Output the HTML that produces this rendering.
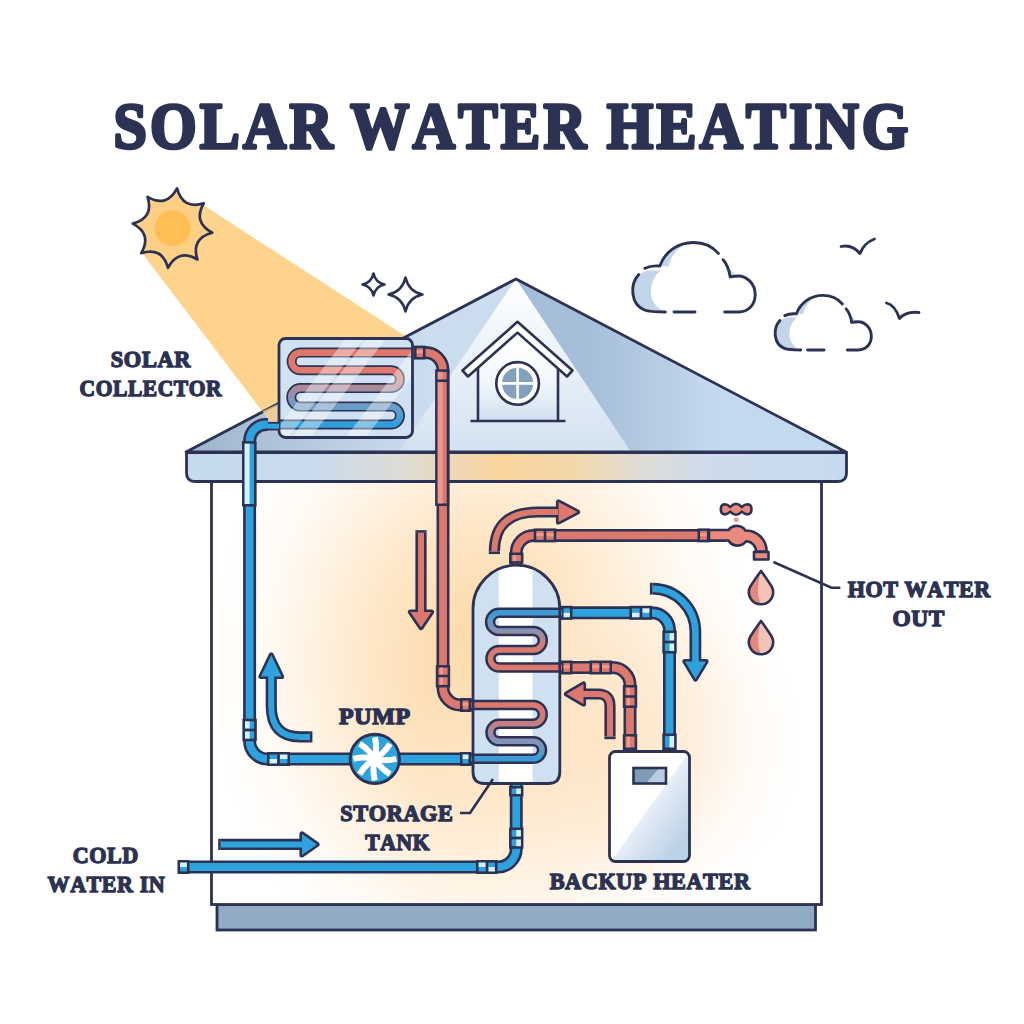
<!DOCTYPE html>
<html><head><meta charset="utf-8"><title>Solar Water Heating</title>
<style>html,body{margin:0;padding:0;background:#fff;width:1024px;height:1024px;overflow:hidden}svg{display:block}</style>
</head><body>
<svg width="1024" height="1024" viewBox="0 0 1024 1024">
<defs>
<radialGradient id="glow" cx="482" cy="665" r="270" gradientUnits="userSpaceOnUse" gradientTransform="translate(482 665) scale(1 1.25) translate(-482 -665)">
<stop offset="0" stop-color="#fcd9a6"/><stop offset="0.2" stop-color="#fddeb3"/><stop offset="0.4" stop-color="#fee6c6"/><stop offset="0.6" stop-color="#fff1de"/><stop offset="0.8" stop-color="#fffaf4"/><stop offset="1" stop-color="#ffffff"/></radialGradient>
<linearGradient id="roofL" x1="200" y1="0" x2="420" y2="0" gradientUnits="userSpaceOnUse"><stop offset="0" stop-color="#a1b7cf"/><stop offset="1" stop-color="#cbdcee"/></linearGradient>
<linearGradient id="roofR" x1="585" y1="0" x2="715" y2="0" gradientUnits="userSpaceOnUse"><stop offset="0" stop-color="#a5bdd7"/><stop offset="1" stop-color="#c5d9ee"/></linearGradient>
<linearGradient id="roofC" x1="0" y1="279" x2="0" y2="452" gradientUnits="userSpaceOnUse"><stop offset="0" stop-color="#ffffff"/><stop offset="1" stop-color="#d3e2f1"/></linearGradient>
<linearGradient id="eave" x1="186" y1="0" x2="847" y2="0" gradientUnits="userSpaceOnUse"><stop offset="0" stop-color="#c6daef"/><stop offset="0.19" stop-color="#c8dbee"/><stop offset="0.32" stop-color="#dcdcd8"/><stop offset="0.475" stop-color="#fbd49c"/><stop offset="0.59" stop-color="#f3d8ac"/><stop offset="0.69" stop-color="#dedcd6"/><stop offset="0.79" stop-color="#cddcec"/><stop offset="1" stop-color="#c6daef"/></linearGradient>
<linearGradient id="dorm" x1="0" y1="340" x2="0" y2="421" gradientUnits="userSpaceOnUse"><stop offset="0" stop-color="#ffffff"/><stop offset="0.5" stop-color="#f4f8fc"/><stop offset="1" stop-color="#cfe0f0"/></linearGradient>
<linearGradient id="coil1" x1="0" y1="352" x2="0" y2="425" gradientUnits="userSpaceOnUse"><stop offset="0" stop-color="#e0766a"/><stop offset="0.3" stop-color="#de7a6f"/><stop offset="0.5" stop-color="#a88b9c"/><stop offset="0.75" stop-color="#6d9dca"/><stop offset="1" stop-color="#2f9fdc"/></linearGradient>
<linearGradient id="coil2" x1="0" y1="612" x2="0" y2="668" gradientUnits="userSpaceOnUse"><stop offset="0" stop-color="#3b9bd8"/><stop offset="0.3" stop-color="#7f93b8"/><stop offset="0.6" stop-color="#d77a70"/><stop offset="1" stop-color="#dc786d"/></linearGradient>
<linearGradient id="coil3" x1="0" y1="705" x2="0" y2="759" gradientUnits="userSpaceOnUse"><stop offset="0" stop-color="#dc786d"/><stop offset="0.35" stop-color="#c47f82"/><stop offset="0.7" stop-color="#7d95bd"/><stop offset="1" stop-color="#3b9bd8"/></linearGradient>
<linearGradient id="heater" x1="649.5" y1="806.4" x2="687.3" y2="833.7" gradientUnits="userSpaceOnUse"><stop offset="0" stop-color="#ffffff"/><stop offset="0.03" stop-color="#e6eef7"/><stop offset="1" stop-color="#bcd1e6"/></linearGradient>
<clipPath id="tankclip"><path d="M473 608.6 A43.4 43.4 0 0 1 559.8 608.6 V772 Q559.8 783.5 548.3 783.5 H484.5 Q473 783.5 473 772 Z"/></clipPath>
<clipPath id="collclip"><rect x="279" y="338.5" width="133.5" height="99" rx="6.5"/></clipPath>
<radialGradient id="glow2" cx="610" cy="740" r="190" gradientUnits="userSpaceOnUse" gradientTransform="translate(610 740) scale(1 0.95) translate(-610 -740)">
<stop offset="0" stop-color="#fde3c2" stop-opacity="0.85"/><stop offset="0.5" stop-color="#fde8cf" stop-opacity="0.55"/><stop offset="1" stop-color="#fff3e6" stop-opacity="0"/></radialGradient>
</defs>
<polygon points="142,253 204,205.5 410,339 278,432" fill="#fdd38d"/>
<path d="M212.24 232.73 Q190.87 238.38 197.40 259.50 Q178.29 248.39 167.97 267.94 Q162.32 246.57 141.20 253.10 Q152.31 233.99 132.76 223.67 Q154.13 218.02 147.60 196.90 Q166.71 208.01 177.03 188.46 Q182.68 209.83 203.80 203.30 Q192.69 222.41 212.24 232.73 Z" fill="#fdd085" stroke="#2c3253" stroke-width="2.7" stroke-linejoin="round"/>
<circle cx="172.5" cy="228.2" r="18" fill="#fdbf55"/>
<path d="M373.5 273.5 Q375.48 282.52 384.5 284.5 Q375.48 286.48 373.5 295.5 Q371.52 286.48 362.5 284.5 Q371.52 282.52 373.5 273.5 Z" fill="#fff" stroke="#2c3253" stroke-width="2.6" stroke-linejoin="round"/>
<path d="M405.5 277.5 Q408.56 291.44 422.5 294.5 Q408.56 297.56 405.5 311.5 Q402.44 297.56 388.5 294.5 Q402.44 291.44 405.5 277.5 Z" fill="#fff" stroke="#2c3253" stroke-width="2.6" stroke-linejoin="round"/>
<g transform="translate(632.5 242.5) scale(1.0)"><path d="M9 30.5 C -3 42 -2 62 12 67.5 C 17 69.5 25 69.5 32.8 69.5 C 22 65 17.5 56 18.5 46 C 19.5 38 23 32 28 28.5 C 20 27 14 28 9 30.5 Z" fill="#c3d5e8"/><path d="M27.3 23.5 C 31 12 41 4 53 1.2 C 44 6 38.5 14 36 24 Z" fill="#c3d5e8"/><path d="M90.6 17.2 C 94 21 96.5 27 97.7 34.4 C 101 33.8 103 33.5 105 33.6 C 100 30 95 24 90.6 17.2 Z" fill="#c3d5e8"/><path d="M6.25 32 C -3 42 -2 62 12 67.5 C 17 69.5 25 69.5 32.8 69.5" fill="none" stroke="#2c3253" stroke-width="2.90" stroke-linecap="round" stroke-linejoin="round"/><path d="M41.5 69.5 H62.5" fill="none" stroke="#2c3253" stroke-width="2.90" stroke-linecap="round" stroke-linejoin="round"/><path d="M92.2 69.5 H106 C 116 69.5 122.7 62 122.7 52 C 122.7 41 114 33.5 106 33.5 C 103 33.5 100 34 97.7 34.4 C 96.5 27 94 21 90.6 17.2" fill="none" stroke="#2c3253" stroke-width="2.90" stroke-linecap="round" stroke-linejoin="round"/><path d="M85.9 10.9 C 80 4 71 0 61 0 C 45 0 32 10 27.3 23.5 C 22 23 16 24 12.5 25.8" fill="none" stroke="#2c3253" stroke-width="2.90" stroke-linecap="round" stroke-linejoin="round"/></g>
<g transform="translate(775 295.4) scale(0.785)"><path d="M9 30.5 C -3 42 -2 62 12 67.5 C 17 69.5 25 69.5 32.8 69.5 C 22 65 17.5 56 18.5 46 C 19.5 38 23 32 28 28.5 C 20 27 14 28 9 30.5 Z" fill="#c3d5e8"/><path d="M27.3 23.5 C 31 12 41 4 53 1.2 C 44 6 38.5 14 36 24 Z" fill="#c3d5e8"/><path d="M90.6 17.2 C 94 21 96.5 27 97.7 34.4 C 101 33.8 103 33.5 105 33.6 C 100 30 95 24 90.6 17.2 Z" fill="#c3d5e8"/><path d="M6.25 32 C -3 42 -2 62 12 67.5 C 17 69.5 25 69.5 32.8 69.5" fill="none" stroke="#2c3253" stroke-width="3.69" stroke-linecap="round" stroke-linejoin="round"/><path d="M41.5 69.5 H62.5" fill="none" stroke="#2c3253" stroke-width="3.69" stroke-linecap="round" stroke-linejoin="round"/><path d="M92.2 69.5 H106 C 116 69.5 122.7 62 122.7 52 C 122.7 41 114 33.5 106 33.5 C 103 33.5 100 34 97.7 34.4 C 96.5 27 94 21 90.6 17.2" fill="none" stroke="#2c3253" stroke-width="3.69" stroke-linecap="round" stroke-linejoin="round"/><path d="M85.9 10.9 C 80 4 71 0 61 0 C 45 0 32 10 27.3 23.5 C 22 23 16 24 12.5 25.8" fill="none" stroke="#2c3253" stroke-width="3.69" stroke-linecap="round" stroke-linejoin="round"/></g>
<path d="M841 246.5 Q852 244 860 253.5 Q864 243 874.5 239" fill="none" stroke="#2c3253" stroke-width="2.8" stroke-linecap="round" stroke-linejoin="round"/>
<path d="M886.5 303 Q895 305 899.5 318.5 Q906 311 919 312.5" fill="none" stroke="#2c3253" stroke-width="2.8" stroke-linecap="round" stroke-linejoin="round"/>
<rect x="217" y="904" width="598.5" height="26" fill="#91abc6" stroke="#2c3253" stroke-width="2.8"/>
<rect x="211.5" y="470" width="610" height="434.5" fill="url(#glow)"/>
<rect x="211.5" y="470" width="610" height="434.5" fill="url(#glow2)" stroke="#2c3253" stroke-width="2.8"/>
<polygon points="186,452 516,279 846,452" fill="url(#roofR)"/>
<polygon points="186,452 516,279 420,452" fill="url(#roofL)"/>
<polygon points="516,279 399,452 631,452" fill="url(#roofC)"/>
<polygon points="186,452 516,279 846,452" fill="none" stroke="#2c3253" stroke-width="2.8" stroke-linejoin="round"/>
<path d="M186.5 452.5 H846.5 V473 Q846.5 481.5 838 481.5 H195 Q186.5 481.5 186.5 473 Z" fill="url(#eave)" stroke="#2c3253" stroke-width="2.8" stroke-linejoin="round"/>
<polygon points="262.5,411.3 279,403.5 279,432 277,432" fill="#fcd08a" opacity="0.78"/>
<path d="M478 421 V366 L517.5 331 L558 366 V421 Z" fill="url(#dorm)"/>
<path d="M478 368 V421 M558 368 V421 M470.5 421 H565.5" stroke="#2c3253" stroke-width="2.6" fill="none"/>
<path d="M462.5 370.5 L517.5 321.8 L572.5 370.5 L567 376.5 L517.5 332.6 L468 376.5 Z" fill="#fff" stroke="#2c3253" stroke-width="2.6" stroke-linejoin="round"/>
<circle cx="517.6" cy="383.4" r="21.3" fill="#fff" stroke="#2c3253" stroke-width="2.6"/>
<circle cx="517.6" cy="383.4" r="15.6" fill="#84a0ba"/>
<path d="M517.6 367.8 V399 M502 383.4 H533.2" stroke="#fff" stroke-width="2.6"/>
<rect x="279" y="338.5" width="133.5" height="99" rx="6.5" fill="#cfe1f2"/>
<g clip-path="url(#collclip)">
<path d="M426 352.6 H300.5 A8.85 8.85 0 0 0 300.5 370.3 H391 A8.9 8.9 0 0 1 391 388.1 H300.5 A9.25 9.25 0 0 0 300.5 406.6 H391 A8.95 8.95 0 0 1 391 424.5 H266" fill="none" stroke="#2c3253" stroke-width="10"/>
<path d="M426 352.6 H300.5 A8.85 8.85 0 0 0 300.5 370.3 H391 A8.9 8.9 0 0 1 391 388.1 H300.5 A9.25 9.25 0 0 0 300.5 406.6 H391 A8.95 8.95 0 0 1 391 424.5 H266" fill="none" stroke="url(#coil1)" stroke-width="6.6"/>
<g fill="#ffffff" opacity="0.4"><polygon points="267.0,442 285.0,442 365.6,336 347.6,336"/><polygon points="288.3,442 307.3,442 387.9,336 368.9,336"/><polygon points="342.3,442 362.3,442 442.9,336 422.9,336"/></g>
</g>
<rect x="279" y="338.5" width="133.5" height="99" rx="6.5" fill="none" stroke="#2c3253" stroke-width="2.8"/>
<path d="M414 352.6 H425.5 A17.5 17.5 0 0 1 443 370.1 V687.5 A17.5 17.5 0 0 0 460.5 705 H472" fill="none" stroke="#2c3253" stroke-width="13" stroke-linecap="butt" stroke-linejoin="round"/>
<path d="M279 426.2 H268" fill="none" stroke="#2c3253" stroke-width="8.6" stroke-linecap="butt" stroke-linejoin="round"/>
<path d="M268 424.5 H266.1 A16.5 16.5 0 0 0 249.6 441 V741 A18 18 0 0 0 267.6 759 H472" fill="none" stroke="#2c3253" stroke-width="13" stroke-linecap="butt" stroke-linejoin="round"/>
<path d="M516.25 564 V552.9 A17.5 17.5 0 0 1 533.75 535.4 H726" fill="none" stroke="#2c3253" stroke-width="13" stroke-linecap="butt" stroke-linejoin="round"/>
<path d="M560 667.5 H612.5 A17.5 17.5 0 0 1 630 685 V750" fill="none" stroke="#2c3253" stroke-width="13" stroke-linecap="butt" stroke-linejoin="round"/>
<path d="M560 612.8 H652 A17.5 17.5 0 0 1 669.5 630.3 V750" fill="none" stroke="#2c3253" stroke-width="13" stroke-linecap="butt" stroke-linejoin="round"/>
<path d="M516.25 784 V848.75 A18.25 18.25 0 0 1 498 867 H185" fill="none" stroke="#2c3253" stroke-width="13" stroke-linecap="butt" stroke-linejoin="round"/>
<path d="M414 352.6 H425.5 A17.5 17.5 0 0 1 443 370.1 V687.5 A17.5 17.5 0 0 0 460.5 705 H472" fill="none" stroke="#dc786d" stroke-width="7.8" stroke-linecap="butt" stroke-linejoin="round"/>
<path d="M279 426.2 H268" fill="none" stroke="#2ea2dc" stroke-width="5.0" stroke-linecap="butt" stroke-linejoin="round"/>
<path d="M268 424.5 H266.1 A16.5 16.5 0 0 0 249.6 441 V741 A18 18 0 0 0 267.6 759 H472" fill="none" stroke="#2ea2dc" stroke-width="7.8" stroke-linecap="butt" stroke-linejoin="round"/>
<path d="M516.25 564 V552.9 A17.5 17.5 0 0 1 533.75 535.4 H726" fill="none" stroke="#dc786d" stroke-width="7.8" stroke-linecap="butt" stroke-linejoin="round"/>
<path d="M560 667.5 H612.5 A17.5 17.5 0 0 1 630 685 V750" fill="none" stroke="#dc786d" stroke-width="7.8" stroke-linecap="butt" stroke-linejoin="round"/>
<path d="M560 612.8 H652 A17.5 17.5 0 0 1 669.5 630.3 V750" fill="none" stroke="#2ea2dc" stroke-width="7.8" stroke-linecap="butt" stroke-linejoin="round"/>
<path d="M516.25 784 V848.75 A18.25 18.25 0 0 1 498 867 H185" fill="none" stroke="#2ea2dc" stroke-width="7.8" stroke-linecap="butt" stroke-linejoin="round"/>
<rect x="243.3" y="442.4" width="12" height="62.9" fill="#2ea2dc" stroke="#2c3253" stroke-width="2.6"/>
<rect x="244.6" y="443.7" width="5" height="60.3" fill="#d4f1fc"/>
<rect x="436.4" y="370.6" width="11.6" height="134.1" fill="#dc786d" stroke="#2c3253" stroke-width="2.6"/>
<rect x="437.7" y="371.9" width="5" height="131.5" fill="#ee968a"/>
<line x1="436.4" y1="380.7" x2="448" y2="380.7" stroke="#2c3253" stroke-width="2.6"/>
<rect x="415.30" y="346.90" width="8.90" height="11.40" fill="#dc786d" stroke="#2c3253" stroke-width="2.6"/><rect x="416.60" y="350.20" width="6.30" height="3.2" fill="#eea092" opacity="0.85"/>
<rect x="437.10" y="666.30" width="11.80" height="19.90" fill="#dc786d" stroke="#2c3253" stroke-width="2.6"/><rect x="439.80" y="667.60" width="3.2" height="17.30" fill="#eea092" opacity="0.85"/><line x1="437.10" y1="676.00" x2="448.90" y2="676.00" stroke="#2c3253" stroke-width="2.6"/>
<rect x="461.30" y="699.30" width="8.40" height="11.40" fill="#dc786d" stroke="#2c3253" stroke-width="2.6"/><rect x="462.60" y="702.60" width="5.80" height="3.2" fill="#eea092" opacity="0.85"/>
<rect x="243.70" y="720.05" width="11.80" height="19.90" fill="#2ea2dc" stroke="#2c3253" stroke-width="2.6"/><rect x="245.00" y="721.35" width="4.60" height="7.35" fill="#d4f1fc"/><rect x="245.00" y="731.30" width="4.60" height="7.35" fill="#d4f1fc"/><line x1="243.70" y1="730.00" x2="255.50" y2="730.00" stroke="#2c3253" stroke-width="2.6"/>
<rect x="268.30" y="753.30" width="20.40" height="11.40" fill="#2ea2dc" stroke="#2c3253" stroke-width="2.6"/><rect x="269.60" y="759.00" width="7.60" height="4.40" fill="#d4f1fc"/><rect x="279.80" y="754.60" width="7.60" height="4.40" fill="#d4f1fc"/><line x1="278.50" y1="753.30" x2="278.50" y2="764.70" stroke="#2c3253" stroke-width="2.6"/>
<rect x="461.30" y="753.30" width="8.40" height="11.40" fill="#2ea2dc" stroke="#2c3253" stroke-width="2.6"/><rect x="462.60" y="754.60" width="5.80" height="4.40" fill="#d4f1fc"/>
<rect x="510.35" y="553.80" width="11.80" height="8.65" fill="#dc786d" stroke="#2c3253" stroke-width="2.6"/><rect x="513.05" y="555.10" width="3.2" height="6.05" fill="#eea092" opacity="0.85"/>
<rect x="535.05" y="529.70" width="19.90" height="11.40" fill="#dc786d" stroke="#2c3253" stroke-width="2.6"/><rect x="536.35" y="533.00" width="17.30" height="3.2" fill="#eea092" opacity="0.85"/><line x1="545.00" y1="529.70" x2="545.00" y2="541.10" stroke="#2c3253" stroke-width="2.6"/>
<rect x="698.80" y="529.70" width="9.40" height="11.40" fill="#dc786d" stroke="#2c3253" stroke-width="2.6"/><rect x="700.10" y="533.00" width="6.80" height="3.2" fill="#eea092" opacity="0.85"/>
<rect x="562.30" y="661.80" width="8.90" height="11.40" fill="#dc786d" stroke="#2c3253" stroke-width="2.6"/><rect x="563.60" y="665.10" width="6.30" height="3.2" fill="#eea092" opacity="0.85"/>
<rect x="590.80" y="661.80" width="19.90" height="11.40" fill="#dc786d" stroke="#2c3253" stroke-width="2.6"/><rect x="592.10" y="665.10" width="17.30" height="3.2" fill="#eea092" opacity="0.85"/><line x1="600.70" y1="661.80" x2="600.70" y2="673.20" stroke="#2c3253" stroke-width="2.6"/>
<rect x="624.10" y="686.30" width="11.80" height="20.40" fill="#dc786d" stroke="#2c3253" stroke-width="2.6"/><rect x="626.80" y="687.60" width="3.2" height="17.80" fill="#eea092" opacity="0.85"/><line x1="624.10" y1="696.50" x2="635.90" y2="696.50" stroke="#2c3253" stroke-width="2.6"/>
<rect x="624.10" y="735.30" width="11.80" height="13.40" fill="#dc786d" stroke="#2c3253" stroke-width="2.6"/><rect x="626.80" y="736.60" width="3.2" height="10.80" fill="#eea092" opacity="0.85"/>
<rect x="562.30" y="607.10" width="8.90" height="11.40" fill="#2ea2dc" stroke="#2c3253" stroke-width="2.6"/><rect x="563.60" y="612.80" width="6.30" height="4.40" fill="#d4f1fc"/>
<rect x="630.70" y="607.10" width="20.00" height="11.40" fill="#2ea2dc" stroke="#2c3253" stroke-width="2.6"/><rect x="632.00" y="612.80" width="7.70" height="4.40" fill="#d4f1fc"/><rect x="642.30" y="608.40" width="7.10" height="4.40" fill="#d4f1fc"/><line x1="641.00" y1="607.10" x2="641.00" y2="618.50" stroke="#2c3253" stroke-width="2.6"/>
<rect x="663.60" y="631.80" width="11.80" height="20.40" fill="#2ea2dc" stroke="#2c3253" stroke-width="2.6"/><rect x="669.50" y="633.10" width="4.60" height="7.60" fill="#d4f1fc"/><rect x="669.50" y="643.30" width="4.60" height="7.60" fill="#d4f1fc"/><line x1="663.60" y1="642.00" x2="675.40" y2="642.00" stroke="#2c3253" stroke-width="2.6"/>
<rect x="663.60" y="734.80" width="11.80" height="13.90" fill="#2ea2dc" stroke="#2c3253" stroke-width="2.6"/><rect x="669.50" y="736.10" width="4.60" height="11.30" fill="#d4f1fc"/>
<rect x="510.35" y="787.30" width="11.80" height="7.90" fill="#2ea2dc" stroke="#2c3253" stroke-width="2.6"/><rect x="516.25" y="788.60" width="4.60" height="5.30" fill="#d4f1fc"/>
<rect x="510.35" y="828.80" width="11.80" height="18.65" fill="#2ea2dc" stroke="#2c3253" stroke-width="2.6"/><rect x="516.25" y="830.10" width="4.60" height="6.60" fill="#d4f1fc"/><rect x="516.25" y="839.30" width="4.60" height="6.85" fill="#d4f1fc"/><line x1="510.35" y1="838.00" x2="522.15" y2="838.00" stroke="#2c3253" stroke-width="2.6"/>
<rect x="477.30" y="861.30" width="18.90" height="11.40" fill="#2ea2dc" stroke="#2c3253" stroke-width="2.6"/><rect x="478.60" y="862.60" width="7.10" height="4.40" fill="#d4f1fc"/><rect x="488.30" y="867.00" width="6.60" height="4.40" fill="#d4f1fc"/><line x1="487.00" y1="861.30" x2="487.00" y2="872.70" stroke="#2c3253" stroke-width="2.6"/>
<rect x="178.80" y="861.30" width="9.40" height="11.40" fill="#2ea2dc" stroke="#2c3253" stroke-width="2.6"/><rect x="180.10" y="862.60" width="6.80" height="4.40" fill="#d4f1fc"/>
<path d="M473 608.6 A43.4 43.4 0 0 1 559.8 608.6 V772 Q559.8 783.5 548.3 783.5 H484.5 Q473 783.5 473 772 Z" fill="#cfe0f0"/>
<rect x="498.75" y="560" width="33.75" height="230" fill="#fff" clip-path="url(#tankclip)"/>
<path d="M562 612.8 H499.2 A9.1 9.1 0 0 0 499.2 631 H533.3 A9.5 9.5 0 0 1 533.3 650 H499.2 A8.75 8.75 0 0 0 499.2 667.5 H562" fill="none" stroke="#2c3253" stroke-width="10.5"/>
<path d="M562 612.8 H499.2 A9.1 9.1 0 0 0 499.2 631 H533.3 A9.5 9.5 0 0 1 533.3 650 H499.2 A8.75 8.75 0 0 0 499.2 667.5 H562" fill="none" stroke="url(#coil2)" stroke-width="5.5"/>
<path d="M471 705 H533.3 A9.4 9.4 0 0 1 533.3 723.8 H499.2 A8.75 8.75 0 0 0 499.2 741.3 H533.3 A8.75 8.75 0 0 1 533.3 758.8 H471" fill="none" stroke="#2c3253" stroke-width="10.5"/>
<path d="M471 705 H533.3 A9.4 9.4 0 0 1 533.3 723.8 H499.2 A8.75 8.75 0 0 0 499.2 741.3 H533.3 A8.75 8.75 0 0 1 533.3 758.8 H471" fill="none" stroke="url(#coil3)" stroke-width="5.5"/>
<path d="M473 608.6 A43.4 43.4 0 0 1 559.8 608.6 V772 Q559.8 783.5 548.3 783.5 H484.5 Q473 783.5 473 772 Z" fill="none" stroke="#2c3253" stroke-width="2.8"/>
<circle cx="374.8" cy="758.9" r="24.6" fill="#2ea2dc" stroke="#2c3253" stroke-width="2.9"/>
<g transform="translate(374.8 758.9)" fill="none" stroke="#fff" stroke-width="6"><path d="M0 0 Q10.67 2.66 21.50 0.00"/><path d="M0 0 Q5.67 9.43 15.20 15.20"/><path d="M0 0 Q-2.66 10.67 0.00 21.50"/><path d="M0 0 Q-9.43 5.67 -15.20 15.20"/><path d="M0 0 Q-10.67 -2.66 -21.50 0.00"/><path d="M0 0 Q-5.67 -9.43 -15.20 -15.20"/><path d="M0 0 Q2.66 -10.67 -0.00 -21.50"/><path d="M0 0 Q9.43 -5.67 15.20 -15.20"/></g>
<circle cx="374.8" cy="758.9" r="5.5" fill="#fff"/>
<rect x="609.5" y="751.5" width="80" height="110" rx="6" fill="url(#heater)" stroke="#2c3253" stroke-width="2.8"/>
<rect x="633.5" y="768" width="32.5" height="15.5" fill="#b9cde0"/>
<polygon points="633.5,768 659,768 646,783.5 633.5,783.5" fill="#7f9ab5"/>
<rect x="633.5" y="768" width="32.5" height="15.5" fill="none" stroke="#2c3253" stroke-width="2.6"/>
<g stroke="#2c3253" stroke-width="2.6" stroke-linejoin="round">
<path d="M709 530 H728.5 A10.5 10.5 0 0 1 745.5 530.5 A20.7 20.7 0 0 1 766.6 551.5 H756 A10 10 0 0 0 746 541.3 A10.5 10.5 0 0 1 728.5 540.5 H709 Z" fill="#e98a7c"/>
<rect x="754" y="552" width="14.5" height="7.5" fill="#e98a7c"/>
<path d="M724.6 504.2 Q727.5 504.2 730.3 507 Q733 504 736 503.8 Q739 504 741.8 507 Q744.6 504.2 747.6 504.2 Q751.5 504.5 751.5 509.3 Q751.5 514 747.6 514.4 Q744.6 514.4 741.8 511.6 Q739 514.6 736 514.8 Q733 514.6 730.3 511.6 Q727.5 514.4 724.6 514.4 Q720.8 514 720.8 509.3 Q720.8 504.5 724.6 504.2 Z" fill="#e98a7c"/>
</g>
<circle cx="736.3" cy="519.8" r="2.6" fill="#eba394"/>
<path d="M761 571 Q765 576.1999999999999 771.527 586.25 A12.1 12.1 0 1 1 750.473 586.25 Q757 576.1999999999999 761 571 Z" fill="#f5c2b7"/><path d="M761 571 Q757 576.1999999999999 750.473 586.25 A12.1 12.1 0 0 0 761 604.4 Q755 592.3 761 571 Z" fill="#e3877a"/><path d="M761 571 Q765 576.1999999999999 771.527 586.25 A12.1 12.1 0 1 1 750.473 586.25 Q757 576.1999999999999 761 571 Z" fill="none" stroke="#2c3253" stroke-width="2.6" stroke-linejoin="round"/>
<path d="M761 621 Q765 626.1999999999999 771.527 636.25 A12.1 12.1 0 1 1 750.473 636.25 Q757 626.1999999999999 761 621 Z" fill="#f5c2b7"/><path d="M761 621 Q757 626.1999999999999 750.473 636.25 A12.1 12.1 0 0 0 761 654.4 Q755 642.3 761 621 Z" fill="#e3877a"/><path d="M761 621 Q765 626.1999999999999 771.527 636.25 A12.1 12.1 0 1 1 750.473 636.25 Q757 626.1999999999999 761 621 Z" fill="none" stroke="#2c3253" stroke-width="2.6" stroke-linejoin="round"/>
<path d="M421 532.8 V612" fill="none" stroke="#2c3253" stroke-width="11.2" stroke-linejoin="round"/><line x1="426.60" y1="531.50" x2="415.40" y2="531.50" stroke="#2c3253" stroke-width="2.6"/><polygon points="410.5,612 431.5,612 421,627.5" fill="#2c3253" stroke="#2c3253" stroke-width="5.2" stroke-linejoin="round"/><path d="M421 532.8 V612" fill="none" stroke="#dc786d" stroke-width="5.999999999999999" stroke-linejoin="round"/><polygon points="410.5,612 431.5,612 421,627.5" fill="#dc786d"/>
<path d="M494.4 551.5 Q494.4 512 538 512 H558" fill="none" stroke="#2c3253" stroke-width="11.2" stroke-linejoin="round"/><line x1="488.80" y1="552.80" x2="500.00" y2="552.80" stroke="#2c3253" stroke-width="2.6"/><polygon points="558.5,502 558.5,522 577.5,512" fill="#2c3253" stroke="#2c3253" stroke-width="5.2" stroke-linejoin="round"/><path d="M494.4 551.5 Q494.4 512 538 512 H558" fill="none" stroke="#dc786d" stroke-width="5.999999999999999" stroke-linejoin="round"/><polygon points="558.5,502 558.5,522 577.5,512" fill="#dc786d"/>
<path d="M610 736.6 V706 Q610 694 598 694 H581" fill="none" stroke="#2c3253" stroke-width="11.2" stroke-linejoin="round"/><line x1="604.40" y1="737.90" x2="615.60" y2="737.90" stroke="#2c3253" stroke-width="2.6"/><polygon points="583.5,684 583.5,704 566.5,694" fill="#2c3253" stroke="#2c3253" stroke-width="5.2" stroke-linejoin="round"/><path d="M610 736.6 V706 Q610 694 598 694 H581" fill="none" stroke="#dc786d" stroke-width="5.999999999999999" stroke-linejoin="round"/><polygon points="583.5,684 583.5,704 566.5,694" fill="#dc786d"/>
<path d="M309.8 736.9 H300 Q271.25 736.9 271.25 706 V672" fill="none" stroke="#2c3253" stroke-width="11.2" stroke-linejoin="round"/><line x1="311.10" y1="742.50" x2="311.10" y2="731.30" stroke="#2c3253" stroke-width="2.6"/><polygon points="261,676.5 281.5,676.5 271.25,655" fill="#2c3253" stroke="#2c3253" stroke-width="5.2" stroke-linejoin="round"/><path d="M309.8 736.9 H300 Q271.25 736.9 271.25 706 V672" fill="none" stroke="#2ea2dc" stroke-width="5.999999999999999" stroke-linejoin="round"/><polygon points="261,676.5 281.5,676.5 271.25,655" fill="#2ea2dc"/>
<path d="M652.5 588.7 A42.9 43.5 0 0 1 695.4 632 V662" fill="none" stroke="#2c3253" stroke-width="11.8" stroke-linejoin="round"/><line x1="651.20" y1="582.80" x2="651.20" y2="594.60" stroke="#2c3253" stroke-width="2.6"/><polygon points="685,661.5 706,661.5 695.5,679" fill="#2c3253" stroke="#2c3253" stroke-width="5.2" stroke-linejoin="round"/><path d="M652.5 588.7 A42.9 43.5 0 0 1 695.4 632 V662" fill="none" stroke="#2ea2dc" stroke-width="6.6000000000000005" stroke-linejoin="round"/><polygon points="685,661.5 706,661.5 695.5,679" fill="#2ea2dc"/>
<path d="M220.8 844.4 H302" fill="none" stroke="#2c3253" stroke-width="11.2" stroke-linejoin="round"/><line x1="219.50" y1="838.80" x2="219.50" y2="850.00" stroke="#2c3253" stroke-width="2.6"/><polygon points="302,834 302,855 317,844.4" fill="#2c3253" stroke="#2c3253" stroke-width="5.2" stroke-linejoin="round"/><path d="M220.8 844.4 H302" fill="none" stroke="#2ea2dc" stroke-width="5.999999999999999" stroke-linejoin="round"/><polygon points="302,834 302,855 317,844.4" fill="#2ea2dc"/>
<path d="M773.4 562 L831.4 587.7 H840.4" fill="none" stroke="#2c3253" stroke-width="2.6"/>
<path d="M493 779 L470 813 H460" fill="none" stroke="#2c3253" stroke-width="2.6"/>
<g font-family="Liberation Serif, serif" font-weight="bold" style="font-kerning:none;font-variant-ligatures:none">
<text transform="translate(110.78 367.2) scale(0.9966 1)" x="0" y="0" font-size="22.5" letter-spacing="0.6" fill="#2c3253" stroke="#2c3253" stroke-width="1.35" stroke-linejoin="round">SOLAR</text>
<text transform="translate(79.62 396.2) scale(0.9558 1)" x="0" y="0" font-size="22.5" letter-spacing="0.6" fill="#2c3253" stroke="#2c3253" stroke-width="1.35" stroke-linejoin="round">COLLECTOR</text>
<text transform="translate(339.07 724.3) scale(1.0623 1)" x="0" y="0" font-size="22.5" letter-spacing="0.6" fill="#2c3253" stroke="#2c3253" stroke-width="1.35" stroke-linejoin="round">PUMP</text>
<text transform="translate(340.29 821.2) scale(0.9917 1)" x="0" y="0" font-size="22.5" letter-spacing="0.6" fill="#2c3253" stroke="#2c3253" stroke-width="1.35" stroke-linejoin="round">STORAGE</text>
<text transform="translate(365.34 850.4) scale(0.9603 1)" x="0" y="0" font-size="22.5" letter-spacing="0.6" fill="#2c3253" stroke="#2c3253" stroke-width="1.35" stroke-linejoin="round">TANK</text>
<text transform="translate(847.70 596.5) scale(0.9402 1)" x="0" y="0" font-size="23.5" letter-spacing="0.6" fill="#2c3253" stroke="#2c3253" stroke-width="1.35" stroke-linejoin="round">HOT WATER</text>
<text transform="translate(892.53 625.5) scale(0.9966 1)" x="0" y="0" font-size="23.5" letter-spacing="0.6" fill="#2c3253" stroke="#2c3253" stroke-width="1.35" stroke-linejoin="round">OUT</text>
<text transform="translate(549.71 889.4) scale(0.9475 1)" x="0" y="0" font-size="23.5" letter-spacing="0.6" fill="#2c3253" stroke="#2c3253" stroke-width="1.35" stroke-linejoin="round">BACKUP HEATER</text>
<text transform="translate(72.69 862.8) scale(0.9414 1)" x="0" y="0" font-size="23.5" letter-spacing="0.6" fill="#2c3253" stroke="#2c3253" stroke-width="1.35" stroke-linejoin="round">COLD</text>
<text transform="translate(47.56 892.2) scale(0.9374 1)" x="0" y="0" font-size="23.5" letter-spacing="0.6" fill="#2c3253" stroke="#2c3253" stroke-width="1.35" stroke-linejoin="round">WATER IN</text>
<text transform="translate(113.51 148.4) scale(0.9083 1)" x="0" y="0" font-size="66" letter-spacing="3.5" fill="#2c3253" stroke="#2c3253" stroke-width="3.4" stroke-linejoin="round">SOLAR</text>
<text transform="translate(350.36 148.4) scale(0.8950 1)" x="0" y="0" font-size="66" letter-spacing="3.5" fill="#2c3253" stroke="#2c3253" stroke-width="3.4" stroke-linejoin="round">WATER</text>
<text transform="translate(606.68 148.4) scale(0.9069 1)" x="0" y="0" font-size="66" letter-spacing="3.5" fill="#2c3253" stroke="#2c3253" stroke-width="3.4" stroke-linejoin="round">HEATING</text>
</g>
</svg>
</body></html>
